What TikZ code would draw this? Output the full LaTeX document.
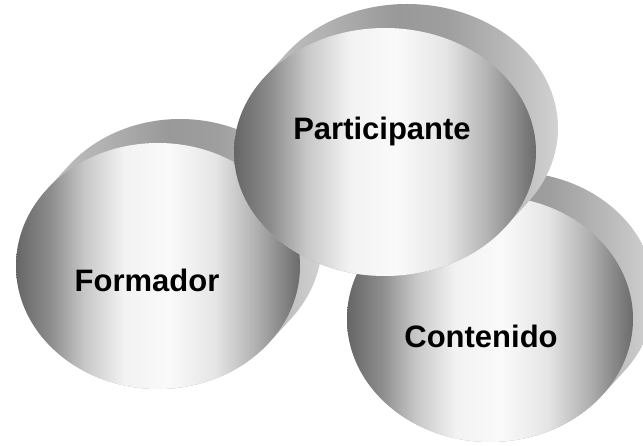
\documentclass[tikz,border=0pt]{standalone}
\usepackage{fontspec}
\setmainfont{Liberation Sans}
\usetikzlibrary{calc}
\pgfdeclarehorizontalshading{discshade}{100bp}{color(0bp)=(black!60); color(25bp)=(black!60); color(31bp)=(black!45); color(37bp)=(black!22); color(44bp)=(black!5); color(52bp)=(black!2); color(60bp)=(black!10); color(67bp)=(black!30); color(75bp)=(black!58); color(100bp)=(black!58)}
\pgfdeclarehorizontalshading{sideshade}{100bp}{color(0bp)=(black!22); color(25bp)=(black!22); color(40bp)=(black!30); color(50bp)=(black!40); color(57bp)=(black!38); color(65bp)=(black!28); color(75bp)=(black!14); color(100bp)=(black!14)}
\begin{document}
\begin{tikzpicture}[x=1pt,y=1pt,
  front/.style={shading=discshade},
  side/.style={shading=sideshade},
  disctext/.style={font=\fontsize{31}{36}\selectfont\bfseries,anchor=base,inner sep=0pt}]
\useasboundingbox (0,0) rectangle (643,445);
\clip (0,0) rectangle (643,445);
\def\dx{22}
\def\dy{24}
% disc: name/centre/radii/label position/label
\foreach \n/\cx/\cy/\rx/\ry/\tx/\ty/\txt in {formador/158/179/142/123/147/153/Formador,
    contenido/490/126/143/123/481/98/Contenido,
    participante/385/293/151/124/382/305/Participante}{
  \pgfmathsetmacro\ta{atan(-(\ry*\dx)/(\rx*\dy))}
  \pgfmathsetmacro\tb{\ta+180}
  \path[side] ($(\cx,\cy)+(\dx,\dy)+(\ta:\rx pt and \ry pt)$)
    arc[start angle=\ta,end angle=\tb,x radius=\rx pt,y radius=\ry pt]
    -- ($(\cx,\cy)+(\tb:\rx pt and \ry pt)$)
    arc[start angle=\tb,end angle=\ta+360,x radius=\rx pt,y radius=\ry pt] -- cycle;
  \path[front] (\cx,\cy) ellipse[x radius=\rx pt,y radius=\ry pt];
  \node[disctext] (\n) at (\tx,\ty) {\txt};
}
\end{tikzpicture}
\end{document}
